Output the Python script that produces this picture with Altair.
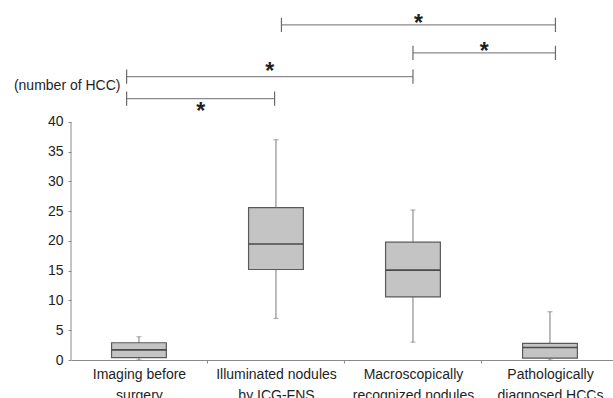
import altair as alt
import pandas as pd

# ---- data -------------------------------------------------------------
groups = [
    "Imaging before surgery",
    "Illuminated nodules by ICG-FNS",
    "Macroscopically recognized nodules",
    "Pathologically diagnosed HCCs",
]
label_lines = [
    ["Imaging before", "surgery"],
    ["Illuminated nodules", "by ICG-FNS"],
    ["Macroscopically", "recognized nodules"],
    ["Pathologically", "diagnosed HCCs"],
]
whisker_low = [0, 7, 3, 0]
q1 = [0.4, 15.2, 10.6, 0.3]
median = [1.7, 19.5, 15.1, 2.1]
q3 = [2.9, 25.6, 19.8, 2.8]
whisker_high = [3.9, 37, 25.2, 8.1]

y_ticks = [0, 5, 10, 15, 20, 25, 30, 35, 40]

# pairwise comparisons marked as significant (group indices)
comp_from = [1, 2, 0, 0]
comp_to = [3, 3, 2, 1]
comp_mark = ["*", "*", "*", "*"]

# ---- layout -----------------------------------------------------------
X_DOMAIN = [-0.496, 3.46]
Y_DOMAIN = [0, 58.8]
BOX_HALF = 0.2
CAP_SIZE = 5
# bracket geometry, in axis units
bracket_from_shift = [0.04, 0.0, -0.09, -0.09]
bracket_to_shift = [0.04, 0.04, 0.0, -0.01]
bracket_level = [56.3, 51.6, 47.6, 43.9]
star_shift = [0.7, 0.6, 1.3, -1.8]
BRACKET_TICK = 1.2

INK = "#1e1e1e"
LINE = "#8a8a8a"

box_df = pd.DataFrame({
    "idx": list(range(len(groups))),
    "group": groups,
    "low": whisker_low,
    "q1": q1,
    "median": median,
    "q3": q3,
    "high": whisker_high,
})

br_df = pd.DataFrame({
    "x0": [a + s for a, s in zip(comp_from, bracket_from_shift)],
    "x1": [b + s for b, s in zip(comp_to, bracket_to_shift)],
    "level": bracket_level,
    "star_y": [l + s for l, s in zip(bracket_level, star_shift)],
    "mark": comp_mark,
})

boundary_df = pd.DataFrame({"b": [i + 0.5 for i in range(len(groups) - 1)]})
yline_df = pd.DataFrame({"y0": [y_ticks[0]], "y1": [y_ticks[-1]]})

label_array = "[" + ",".join(
    "[" + ",".join("'" + s + "'" for s in lines) + "]" for lines in label_lines
) + "]"

x_scale = alt.Scale(domain=X_DOMAIN, nice=False, zero=False)
y_scale = alt.Scale(domain=Y_DOMAIN, nice=False, zero=False)

x_axis = alt.Axis(
    values=list(range(len(groups))),
    labelExpr=label_array + "[datum.value]",
    ticks=False,
    grid=False,
    domainColor=LINE,
    domainWidth=1,
    labelFontSize=14,
    labelColor=INK,
    labelPadding=7,
    labelLineHeight=21,
    labelBaseline="top",
    labelAngle=0,
    labelFlush=False,
    labelOverlap=False,
    title=None,
)

y_axis = alt.Axis(
    values=y_ticks,
    domain=False,
    grid=False,
    tickSize=3,
    tickColor=LINE,
    labelFontSize=14,
    labelColor=INK,
    labelPadding=5,
    title="(number of HCC)",
    titleAngle=0,
    titleAlign="right",
    titleBaseline="middle",
    titleX=49,
    titleY=75,
    titleFontSize=14,
    titleFontWeight="normal",
    titleColor=INK,
)

base = alt.Chart(box_df)

whiskers = base.mark_rule(color="#7a7a7a", strokeWidth=1).encode(
    x=alt.X("idx:Q", scale=x_scale, axis=x_axis),
    y=alt.Y("low:Q", scale=y_scale, axis=y_axis),
    y2="high:Q",
)

caps_high = base.mark_tick(orient="horizontal", size=CAP_SIZE, thickness=1, color="#7a7a7a").encode(
    x="idx:Q", y="high:Q"
)
caps_low = base.mark_tick(orient="horizontal", size=CAP_SIZE, thickness=1, color="#7a7a7a").encode(
    x="idx:Q", y="low:Q"
)

boxes = base.transform_calculate(
    x0=f"datum.idx - {BOX_HALF}", x1=f"datum.idx + {BOX_HALF}"
).mark_rect(fill="#c4c4c4", stroke="#5a5a5a", strokeWidth=1.2).encode(
    x="x0:Q", x2="x1:Q", y="q1:Q", y2="q3:Q"
)

medians = base.transform_calculate(
    x0=f"datum.idx - {BOX_HALF}", x1=f"datum.idx + {BOX_HALF}"
).mark_rule(color="#4a4a4a", strokeWidth=1.6).encode(
    x="x0:Q", x2="x1:Q", y="median:Q"
)

# y axis line, spanning only the labelled range
y_line = alt.Chart(yline_df).mark_rule(color=LINE, strokeWidth=1).encode(
    x=alt.datum(X_DOMAIN[0]), y="y0:Q", y2="y1:Q"
)

# small ticks between categories below the x axis
boundary_ticks = alt.Chart(boundary_df).transform_calculate(
    t0="0", t1="-0.6"
).mark_rule(color=LINE, strokeWidth=1, clip=False).encode(
    x="b:Q", y="t0:Q", y2="t1:Q"
)

br = alt.Chart(br_df)
br_lines = br.mark_rule(color=LINE, strokeWidth=1.3).encode(
    x="x0:Q", x2="x1:Q", y="level:Q"
)
br_left = br.transform_calculate(
    a=f"datum.level - {BRACKET_TICK}", b=f"datum.level + {BRACKET_TICK}"
).mark_rule(color="#6a6a6a", strokeWidth=1.2).encode(x="x0:Q", y="a:Q", y2="b:Q")
br_right = br.transform_calculate(
    a=f"datum.level - {BRACKET_TICK}", b=f"datum.level + {BRACKET_TICK}"
).mark_rule(color="#6a6a6a", strokeWidth=1.2).encode(x="x1:Q", y="a:Q", y2="b:Q")
stars = br.transform_calculate(xm="(datum.x0 + datum.x1) / 2").mark_text(
    fontSize=23, fontWeight="bold", color=INK, baseline="middle", dy=3
).encode(x="xm:Q", y="star_y:Q", text="mark:N")

chart = alt.layer(
    whiskers, caps_high, caps_low, boxes, medians, y_line, boundary_ticks,
    br_lines, br_left, br_right, stars,
).properties(
    width=542,
    height=350,
    autosize=alt.AutoSizeParams(type="none"),
    padding={"left": 71, "top": 10, "right": 0, "bottom": 38},
).configure(
    font="Liberation Sans",
).configure_view(
    stroke=None,
)

chart.save("out.html", embed_options={"renderer": "svg", "actions": False})
